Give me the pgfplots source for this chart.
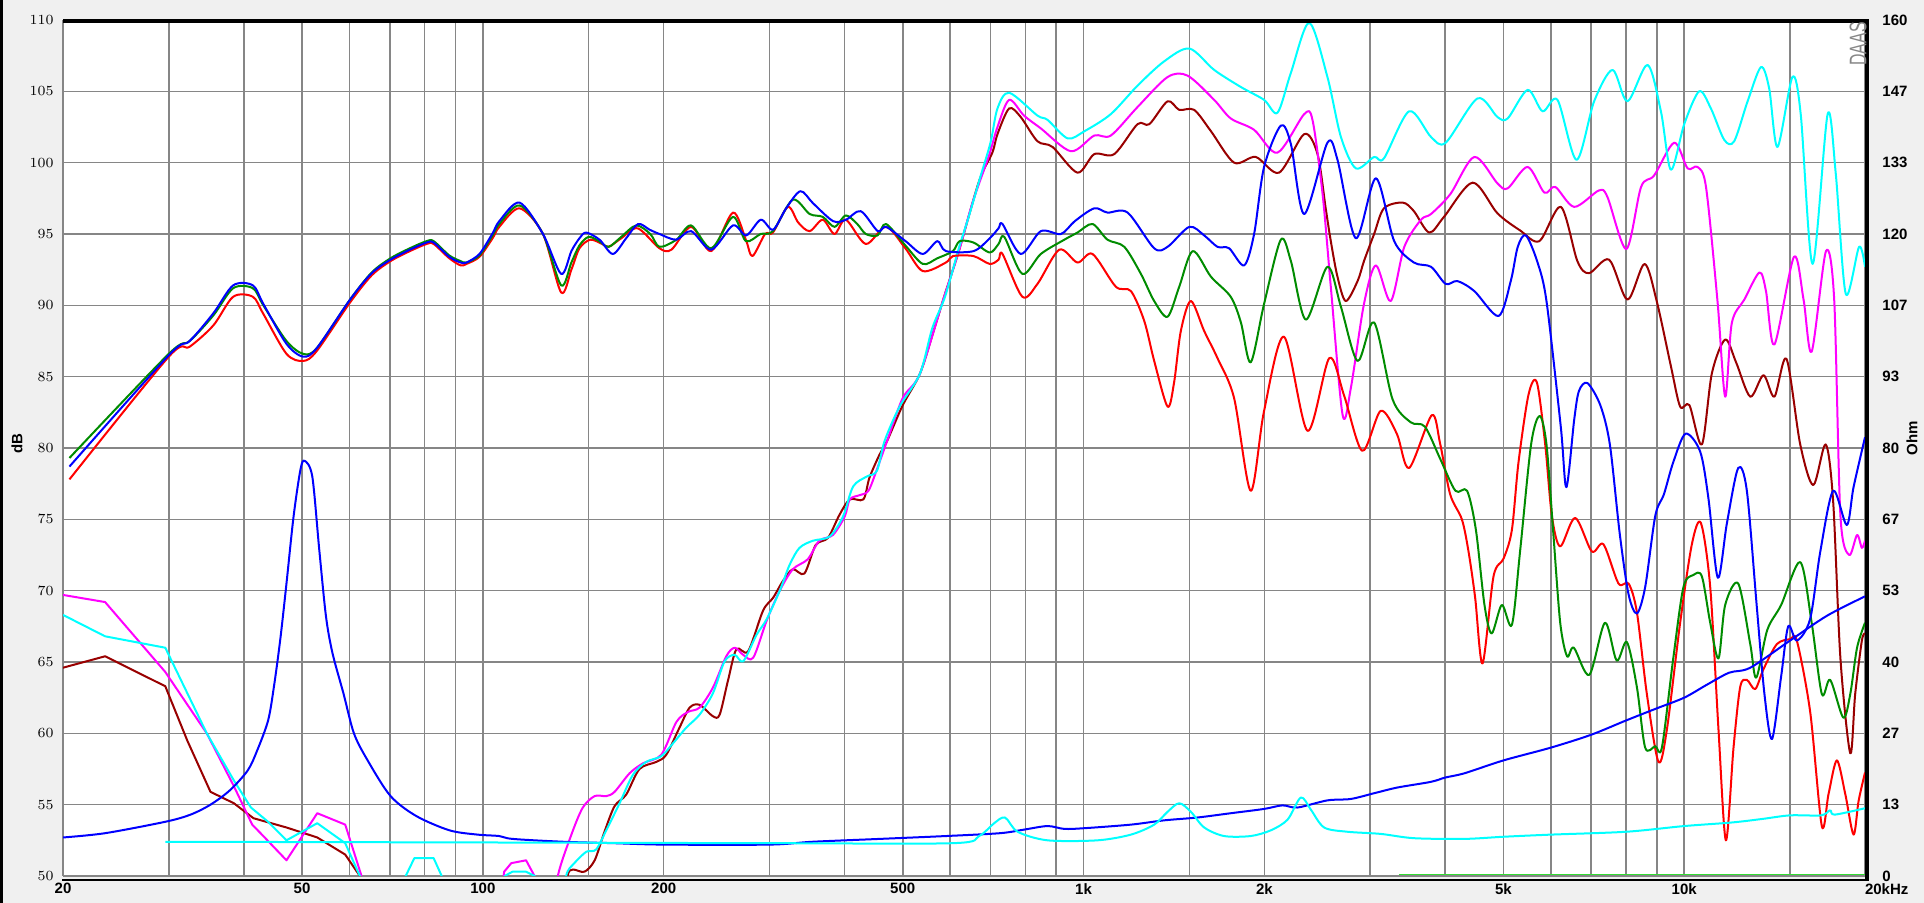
\documentclass[border=0pt]{standalone}
\usepackage{pgfplots}
\pgfplotsset{compat=1.18}
\usepackage{fontspec}
\setmainfont{Liberation Sans}
\definecolor{bgc}{HTML}{F0F0F0}
\definecolor{gridc}{HTML}{868686}
\definecolor{cwb}{HTML}{0000FF}
\definecolor{cwg}{HTML}{008C00}
\definecolor{cwr}{HTML}{FF0000}
\definecolor{ctm}{HTML}{990000}
\definecolor{ctp}{HTML}{FF00FF}
\definecolor{ctc}{HTML}{00FFFF}
\definecolor{clg}{HTML}{33DD33}
\newcommand{\tickfont}{\fontsize{7.5}{8}\selectfont\bfseries}
\begin{document}
\begin{tikzpicture}[x=1pt,y=1pt]
\useasboundingbox (0,0) rectangle (962,451.5);
\fill[bgc] (0,0) rectangle (962,451.5);
\fill[black] (0,0) rectangle (1.3,451.5);
\begin{axis}[
  at={(31.5pt,13.5pt)}, anchor=south west,
  scale only axis, width=901pt, height=428pt,
  xmode=log, xmin=20, xmax=20000, ymin=50, ymax=110,
  axis background/.style={fill=white},
  axis line style={draw=none},
  clip mode=individual,
  xtick={20,50,100,200,500,1000,2000,5000,10000,20000},
  xticklabels={20,50,100,200,500,1k,2k,5k,10k,\makebox[0pt][l]{20kHz}},
  minor xtick={30,40,60,70,80,90,150,300,400,600,700,800,900,1500,3000,4000,6000,7000,8000,9000,15000},
  ytick={50,55,...,110},
  major tick length=0pt, minor tick length=0pt,
  grid=both,
  major grid style={gridc, line width=0.8pt},
  minor grid style={gridc, line width=0.8pt},
  ticklabel style={font=\tickfont, inner sep=0pt},
  yticklabel style={anchor=east, xshift=-4.5pt},
  xticklabel style={anchor=north, yshift=-3.5pt},
  every axis plot/.append style={line width=1pt, line join=round},
]
% ---------- tweeter curves ----------
% maroon
\addplot[ctm] coordinates {(20,64.6)(23.5,65.4)(29.6,63.3)(32.2,59.5)(35.2,55.9)(38.5,55.1)(41.5,54.05)(47.1,53.4)(53,52.7)(59,51.5)(62.4,50.0)(63.6,47)};
\addplot[ctm, smooth, tension=0.5] coordinates {(136.5,47)(138.4,50)(141.2,50.45)(147.6,50.3)(153.5,51.1)(159.4,53.1)(165.7,54.9)(173.2,55.7)(182.3,57.5)(194.5,58.0)(202,58.5)(212.5,60.4)(220.9,61.8)(229.4,62.0)(241.5,61.2)(247.8,61.3)(255.9,63.7)(264.3,65.9)(276.4,65.75)(292.7,68.6)(304.2,69.5)(316.1,70.7)(328.1,71.5)(343,71.2)(358.2,73.2)(375.5,73.7)(392.2,75.3)(408.2,76.4)(430,76.4)(440,77.9)(457,79.5)(471,80.5)(500,83.0)(534,85.2)(561,88.0)(588,90.8)(620,93.8)(670,98.7)(705,100.7)(719,102.0)(752,103.8)(786,103.2)(838,101.5)(888,101.1)(977,99.3)(1042,100.6)(1125,100.6)(1230,102.7)(1287,102.7)(1380,104.3)(1443,103.7)(1528,103.7)(1630,102.2)(1781,100.0)(1935,100.4)(2116,99.3)(2330,102.0)(2452,100.6)(2530,96.8)(2580,94.5)(2647,92.0)(2732,90.3)(2859,91.7)(2930,93.1)(3046,95.0)(3163,96.8)(3400,97.2)(3548,96.6)(3763,95.1)(3982,96.2)(4444,98.6)(4887,96.45)(5330,95.25)(5740,94.5)(6232,96.9)(6640,93.1)(6940,92.25)(7500,93.2)(8045,90.4)(8590,92.9)(9004,90.25)(9500,85.75)(9845,82.9)(10200,83.0)(10700,80.25)(11120,85.25)(11700,87.6)(12200,86.0)(12880,83.6)(13552,85.1)(14130,83.6)(14800,86.25)(15600,80.25)(16400,77.4)(17200,80.25)(17700,76.25)(18200,65.25)(18900,58.6)(19260,62.75)(19760,66.5)(20000,67)};
% magenta
\addplot[ctp] coordinates {(20,69.7)(23.5,69.2)(29.6,64.3)(34.7,60.0)(38.5,56.3)(41.3,53.6)(43.1,52.8)(47.1,51.1)(53,54.4)(59,53.6)(62.8,50.0)(64.5,46)};
\addplot[ctp] coordinates {(106,47)(108.5,50.3)(111.5,50.9)(118,51.1)(121.9,50.0)(123.5,47)};
\addplot[ctp, smooth, tension=0.5] coordinates {(131.5,47)(133.3,50)(140.4,52.9)(146.7,54.8)(153.5,55.6)(160.5,55.6)(165.7,55.9)(175.5,57.2)(184.8,57.9)(198.2,58.5)(210,60.8)(219.5,61.5)(229.4,61.8)(241.5,63.2)(254.2,65.4)(262.6,66.0)(271.3,65.5)(281.9,65.3)(296.8,67.9)(312.1,70.0)(328.1,71.5)(347.4,72.2)(363.3,73.5)(382.6,73.9)(400.3,75.2)(408.2,76.4)(424.3,76.7)(438.4,77.0)(452.9,78.5)(471,80.5)(500,83.5)(534,85.2)(583,90.3)(620,93.8)(654,97.25)(696,100.5)(719,102.5)(752,104.4)(796,103.3)(849,102.4)(953,100.8)(1042,101.9)(1110,101.9)(1230,103.9)(1380,106.0)(1490,106.1)(1650,104.4)(1758,103.1)(1923,102.3)(2103,100.7)(2330,103.4)(2405,103.0)(2500,97.8)(2580,91.3)(2700,82.3)(2786,84.2)(2930,90.1)(3067,92.8)(3246,90.3)(3420,94.1)(3646,96.0)(3789,96.4)(4080,97.8)(4472,100.4)(4887,98.55)(5083,98.2)(5487,99.7)(5850,97.9)(6100,98.3)(6560,96.9)(7210,98.05)(7450,97.6)(8010,93.95)(8476,98.3)(8910,99.1)(9624,101.4)(10130,99.6)(10520,99.7)(10870,98.3)(11360,90.3)(11700,83.6)(12000,88.75)(12590,90.4)(13340,92.3)(13680,91.0)(14130,87.25)(15230,93.4)(15800,90.4)(16300,86.75)(17220,93.8)(17770,90.4)(18200,75.25)(18820,72.5)(19400,73.9)(19760,73.0)(20000,73.5)};
% cyan
\addplot[ctc] coordinates {(20,68.3)(23.5,66.8)(29.6,66.0)(34.7,60.0)(38.5,56.7)(41.1,54.8)(43.9,53.8)(47.1,52.5)(53,53.7)(59,52.3)(62.4,50.0)(63.8,47)};
\addplot[ctc] coordinates {(73.2,47)(74.4,50)(76.9,51.25)(82.8,51.25)(85.4,50)(86.8,47)};
\addplot[ctc] coordinates {(107.3,47)(108.7,50)(112,50.3)(118,50.3)(122,50)(123.5,47)};
\addplot[ctc, smooth, tension=0.5] coordinates {(135.8,47)(137.6,50)(142,50.9)(148.7,51.7)(154.3,51.85)(160.5,53.2)(168.9,55.1)(177.8,57.1)(187.1,58.0)(198.2,58.4)(207.3,59.3)(218.1,60.4)(229.4,61.3)(241.5,62.8)(252.6,65.05)(262.6,65.5)(271.3,65.05)(285.5,66.9)(296.8,68.0)(312.1,70.0)(324,71.8)(336.6,73.0)(354.4,73.5)(378,73.8)(397.8,75.2)(413.4,77.3)(435.5,78.0)(452.9,78.4)(466.5,80.5)(494,82.9)(534,85.2)(560,88.4)(588,90.6)(620,94.0)(645,96.3)(670,98.7)(700,101.4)(719,103.8)(752,104.9)(838,103.3)(871,103.0)(941,101.7)(1003,102.2)(1110,103.4)(1230,105.4)(1362,107.1)(1500,108.0)(1650,106.5)(1828,105.3)(1998,104.4)(2103,103.5)(2214,106.3)(2375,109.8)(2547,106.0)(2682,101.8)(2840,99.6)(3046,100.4)(3163,100.3)(3484,103.6)(3789,101.8)(4008,101.4)(4527,104.5)(4887,103.2)(5083,103.1)(5487,105.1)(5810,103.6)(6152,104.4)(6618,100.2)(7080,104.3)(7597,106.5)(8045,104.3)(8689,106.85)(9145,103.6)(9502,99.5)(10000,102.7)(10590,105.0)(11076,103.8)(11657,101.6)(12110,101.5)(12750,104.3)(13420,106.7)(13850,105.2)(14300,101.1)(15140,106.0)(15630,103.4)(16360,92.9)(17330,103.4)(17880,99.2)(18580,90.8)(19550,94.1)(20000,92.7)};
% ---------- woofer curves ----------
% red
\addplot[cwr, smooth, tension=0.5] coordinates {(20.5,77.8)(30,86.4)(32.5,87.1)(35.6,88.6)(38.4,90.6)(41.4,90.6)(43.1,89.4)(47.1,86.6)(50.2,86.1)(52.9,86.8)(60.1,90.2)(65.3,92.1)(70.2,93.1)(75.6,93.8)(80.6,94.3)(82.8,94.3)(87.9,93.3)(91.8,92.8)(93.9,92.9)(98.7,93.4)(103.8,94.7)(106.5,95.5)(115.1,96.8)(125.9,95.0)(135,90.9)(140.4,92.5)(144.8,94.0)(151,94.6)(158,94.3)(162,94.1)(170,94.7)(181,95.4)(196.8,94.0)(206,93.9)(222.2,95.5)(240,93.8)(260.8,96.5)(274,94.6)(281,93.45)(295,95.0)(304,95.1)(322,96.9)(335,95.8)(350,95.2)(368,96.0)(385,95.0)(402,96.0)(434,94.3)(469,95.5)(505,94.0)(540,92.4)(590,93.0)(606,93.45)(656,93.45)(698,92.9)(722,93.2)(733,93.6)(791,90.6)(838,91.5)(911,93.9)(977,93.0)(1035,93.6)(1132,91.3)(1199,91.0)(1262,88.9)(1311,86.1)(1380,82.9)(1415,84.6)(1452,88.2)(1509,90.3)(1588,88.2)(1671,86.3)(1781,83.5)(1898,77.0)(1998,82.6)(2156,87.8)(2360,81.2)(2565,86.3)(2714,83.7)(2911,79.8)(3124,82.6)(3323,81.0)(3484,78.6)(3800,82.3)(3924,80.3)(4077,76.75)(4264,75.0)(4374,72.75)(4487,69.5)(4616,64.9)(4814,71.0)(5003,72.25)(5165,74.25)(5298,79.0)(5506,83.75)(5684,84.6)(5869,80.25)(6021,75.25)(6217,73.1)(6584,75.1)(7017,72.75)(7338,73.25)(7773,70.5)(8078,70.5)(8340,68.5)(8666,62.75)(9060,58.0)(9356,60.25)(9845,67.75)(10297,73.25)(10658,74.75)(11048,70.25)(11404,60.25)(11732,52.5)(12080,59.0)(12393,63.25)(12713,63.75)(13127,63.1)(13552,64.5)(14263,66.25)(15012,66.6)(15399,66.5)(16207,61.5)(16948,53.5)(17389,55.75)(17953,58.1)(18541,55.75)(19140,52.9)(19512,55.25)(20000,57.25)};
% green
\addplot[cwg, smooth, tension=0.5] coordinates {(20.5,79.3)(30,86.6)(32.5,87.5)(35.6,89.3)(38.4,91.2)(41.4,91.2)(43.1,90.0)(47.1,87.5)(50.2,86.6)(52.9,87.0)(60.1,90.4)(65.3,92.3)(70.2,93.3)(75.6,94.0)(80.6,94.5)(82.8,94.5)(87.9,93.5)(91.8,93.1)(93.9,93.0)(98.7,93.5)(103.8,94.9)(106.5,95.7)(115.1,97.0)(125.9,95.0)(135,91.4)(140.4,93.0)(144.8,94.2)(150,94.8)(156,94.5)(162,94.1)(170,94.8)(180,95.6)(190,95.0)(196.8,94.1)(210,94.6)(222.2,95.6)(240,94.0)(260.8,96.2)(274,94.5)(290,95.0)(304,95.2)(328,97.4)(350,96.4)(368,96.2)(385,95.5)(402,96.3)(420,95.7)(434,95.0)(454,94.9)(469,95.7)(505,94.2)(540,92.9)(571,93.3)(606,93.8)(622,94.5)(656,94.4)(698,93.7)(722,94.3)(738,94.8)(791,92.2)(849,93.6)(929,94.6)(977,95.1)(1035,95.7)(1096,94.6)(1169,94.1)(1246,92.2)(1311,90.3)(1380,89.2)(1443,91.3)(1520,93.8)(1630,92.0)(1758,90.6)(1828,88.8)(1898,86.0)(1998,90.1)(2130,94.6)(2214,93.1)(2345,89.0)(2547,92.7)(2682,89.9)(2859,86.1)(3046,88.8)(3270,83.4)(3505,81.8)(3700,81.5)(3924,79.25)(4160,77.0)(4350,77.0)(4500,74.25)(4650,69.0)(4780,67.0)(4970,69.0)(5165,67.6)(5330,72.75)(5560,80.25)(5745,82.25)(5898,80.25)(6055,74.0)(6217,67.75)(6383,65.4)(6550,66.0)(6950,64.1)(7380,67.75)(7720,65.1)(8026,66.4)(8340,63.25)(8610,59.0)(8950,59.1)(9180,59.0)(9588,65.25)(9970,70.25)(10360,71.1)(10700,71.0)(11048,67.75)(11404,65.25)(11700,69.0)(12300,70.5)(12880,66.25)(13180,63.9)(13750,67.25)(14500,69.0)(15600,72.0)(16300,67.75)(16950,62.75)(17500,63.75)(18400,61.1)(18900,62.75)(19400,66.0)(20000,67.75)};
% blue
\addplot[cwb, smooth, tension=0.5] coordinates {(20.5,78.7)(30,86.5)(32.5,87.5)(35.6,89.45)(38.4,91.4)(41.4,91.4)(43.1,90.1)(47.1,87.3)(50.2,86.4)(52.9,87.0)(60.1,90.4)(65.3,92.25)(70.2,93.2)(75.6,93.9)(80.6,94.4)(82.8,94.4)(87.9,93.4)(91.8,93.0)(93.9,93.0)(98.7,93.6)(103.8,95.05)(106.5,95.9)(115.1,97.2)(125.9,95.0)(135,92.2)(140.4,93.8)(144.8,94.7)(148.6,95.1)(156.4,94.6)(164.6,93.6)(173.2,94.7)(181.3,95.7)(189.5,95.3)(196.8,95.0)(209.8,94.6)(222.2,95.2)(240,93.9)(260.8,95.6)(274.4,94.9)(290.2,96.0)(304.2,95.3)(319.8,96.8)(337.8,98.0)(354.6,97.15)(383,95.9)(402.3,96.0)(425.7,96.6)(454.4,95.2)(469.1,95.5)(505.4,94.5)(540,93.6)(571,94.5)(590,93.8)(656,93.8)(698,94.7)(722,95.4)(733,95.7)(786,93.6)(849,95.2)(917,95.0)(967,95.9)(1042,96.8)(1096,96.5)(1184,96.5)(1311,94.0)(1380,94.1)(1500,95.5)(1588,94.9)(1671,94.1)(1747,94.0)(1851,92.8)(1923,95.0)(1998,99.7)(2130,102.6)(2214,101.3)(2330,96.4)(2547,101.4)(2647,100.2)(2840,94.7)(3067,98.9)(3290,94.5)(3548,93.0)(3789,92.7)(4008,91.5)(4191,91.7)(4472,91.0)(4907,89.25)(5143,91.7)(5283,94.1)(5450,94.9)(5700,93.0)(5900,90.25)(6230,81.5)(6365,77.25)(6560,82.0)(6680,84.0)(6900,84.55)(7250,83.0)(7520,80.25)(7810,74.0)(8078,69.75)(8340,68.4)(8610,70.25)(8950,75.25)(9250,76.75)(9588,79.0)(10050,81.0)(10630,79.75)(10970,76.5)(11376,70.9)(11780,74.75)(12300,78.6)(12713,77.0)(13200,69.0)(13600,62.75)(14000,59.6)(14500,64.0)(14900,67.5)(15400,66.5)(16200,68.0)(16850,72.75)(17700,77.0)(18650,74.6)(19140,77.25)(20000,80.75)};
% ---------- impedance curves (drawn on the dB scale) ----------
\addplot[cwb, smooth, tension=0.5] coordinates {(20,52.7)(23.5,53.0)(29.6,53.8)(32.6,54.3)(35.2,55.0)(37.9,56.0)(40.6,57.4)(42.1,58.8)(43.9,60.9)(44.9,63.3)(46.0,66.6)(47.1,70.5)(48.4,75.2)(49.7,78.5)(50.5,79.1)(52.0,78.0)(53.4,72.9)(54.8,68.2)(56.2,65.6)(58.6,62.8)(61.0,60.0)(64.3,58.1)(70.2,55.6)(77.5,54.2)(88,53.2)(98,52.9)(106.5,52.8)(112,52.6)(136,52.4)(165,52.3)(200,52.2)(300,52.2)(354,52.4)(458,52.6)(590,52.8)(726,53.0)(796,53.25)(871,53.5)(929,53.3)(1003,53.35)(1199,53.6)(1362,53.9)(1548,54.1)(1759,54.4)(1998,54.7)(2144,54.95)(2271,54.8)(2547,55.3)(2786,55.4)(3046,55.8)(3330,56.2)(3789,56.6)(4000,56.9)(4307,57.2)(5000,58.1)(6000,59.0)(7000,59.9)(8000,60.9)(9000,61.75)(10000,62.5)(10900,63.4)(11880,64.25)(12880,64.6)(15000,66.5)(17300,68.25)(20000,69.6)};
\addplot[ctc, smooth, tension=0.5] coordinates {(29.6,52.4)(100,52.35)(300,52.3)(606,52.3)(670,52.8)(710,53.7)(740,54.1)(777,53.1)(871,52.5)(1055,52.5)(1199,52.9)(1311,53.6)(1380,54.5)(1443,55.1)(1509,54.5)(1588,53.4)(1714,52.8)(1898,52.8)(2050,53.2)(2186,53.95)(2300,55.5)(2390,54.65)(2515,53.4)(2751,53.1)(3124,52.95)(3548,52.65)(4307,52.6)(5000,52.75)(6000,52.9)(8000,53.1)(10000,53.5)(12000,53.75)(13500,54.0)(15000,54.25)(16900,54.25)(17500,54.6)(17800,54.3)(20000,54.75)};
\addplot[clg, line width=0.8pt] coordinates {(3350,50.1)(20000,50.1)};
% ---------- frame ----------
\draw[black, line width=2.1pt] ([yshift=-0.6pt]rel axis cs:0,1) -- ([yshift=-0.6pt,xshift=2pt]rel axis cs:1,1);
\draw[black, line width=2pt] ([xshift=1pt,yshift=0.4pt]rel axis cs:1,1) -- ([xshift=1pt,yshift=-2.3pt]rel axis cs:1,0);
\draw[black, line width=0.6pt] ([xshift=-0.5pt,yshift=-2pt]rel axis cs:0,0) -- ([xshift=2pt,yshift=-2pt]rel axis cs:1,0);
\end{axis}
% right-hand Ohm scale
\begin{axis}[
  at={(31.5pt,13.5pt)}, anchor=south west,
  scale only axis, width=901pt, height=428pt,
  xmin=0, xmax=1, ymin=0, ymax=160,
  axis x line=none, axis y line*=right,
  y axis line style={draw=none},
  ytick={0,13.3333,26.6667,40,53.3333,66.6667,80,93.3333,106.6667,120,133.3333,146.6667,160},
  yticklabels={0,13,27,40,53,67,80,93,107,120,133,147,160},
  major tick length=0pt,
  yticklabel style={font=\tickfont, inner sep=0pt, anchor=west, xshift=8.5pt},
]
\addplot[draw=none] coordinates {(0,0)(1,160)};
\end{axis}
\node[rotate=90, font=\tickfont] at (8.5,229.5) {dB};
\node[rotate=90, font=\tickfont] at (956,232.5) {Ohm};
\node[rotate=90, text=gridc, inner sep=0pt] at (929,429.5) {\fontsize{12}{12}\selectfont\scalebox{0.66}[1]{DAAS}};
\end{tikzpicture}
\end{document}
